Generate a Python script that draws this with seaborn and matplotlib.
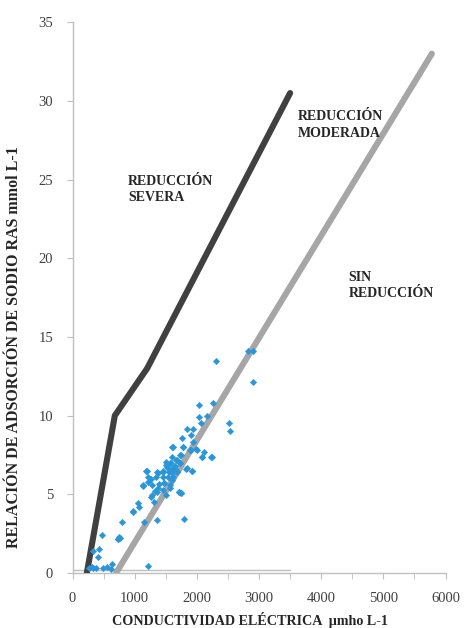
import matplotlib
matplotlib.use("Agg")
import matplotlib.pyplot as plt
import seaborn as sns
import pandas as pd
from matplotlib.ticker import MultipleLocator

# ---- data ----
severa_x = [230, 680, 1200, 3500]
severa_y = [0.0, 10.0, 13.0, 30.5]

sin_x = [700, 5780]
sin_y = [0.0, 33.0]

ce = [2310, 2820, 2895, 2895, 2036, 2256, 2036, 2160, 2509, 2525, 2063, 1848, 1945,
      1902, 1767, 1945, 1773, 1606, 1891, 1987, 2116, 2079, 2240, 1730, 1595, 1665,
      1568, 1504, 1730, 1837, 1918, 1622, 1542, 1676, 1461, 1380, 1192, 1257, 1343,
      1219, 1128, 1273, 1397, 1472, 1542, 1595, 1461, 1568, 1713, 1740, 1354, 1273,
      1310, 1504, 1058, 1074, 967, 789, 1155, 1364, 1794, 752, 725, 467, 333, 429,
      413, 628, 1219, 306, 376, 483, 612, 268,
      1676, 1579, 1504, 1730, 1526, 1622, 1676, 1558, 1461, 1364, 1461, 1622, 1568,
      1472, 1380, 1327, 1719, 1740, 1257, 1128, 1219, 1182, 1611, 1783, 1902, 1746,
      1998, 2079, 2229, 1826, 1918, 1649, 1595, 977, 762, 736, 330, 560]
ras = [13.47, 14.10, 14.10, 12.11, 10.67, 10.82, 9.93, 9.99, 9.55, 9.04, 9.51, 9.12, 9.12,
       8.76, 8.55, 8.34, 7.98, 7.98, 7.81, 7.85, 7.70, 7.39, 7.39, 7.49, 7.39, 7.18,
       6.96, 6.86, 7.01, 6.65, 6.50, 6.54, 6.65, 6.43, 6.43, 6.37, 6.50, 5.95, 6.12,
       5.80, 5.52, 5.59, 5.63, 5.69, 6.12, 5.90, 5.27, 5.38, 5.16, 5.06, 5.16, 4.95,
       4.53, 4.95, 4.42, 4.21, 3.89, 3.26, 3.26, 3.36, 3.43, 2.26, 2.16, 2.41, 1.41, 1.50,
       1.03, 0.57, 0.46, 0.40, 0.29, 0.29, 0.23, 0.33,
       7.18, 7.01, 7.08, 6.97, 6.76, 6.65, 6.50, 6.44, 6.48, 6.44, 6.08, 6.08, 5.59,
       5.70, 5.38, 5.23, 5.17, 5.07, 4.85, 5.59, 6.08, 6.50, 8.03, 8.03, 7.82, 7.50,
       7.82, 7.39, 7.39, 6.59, 6.48, 6.80, 6.34, 3.94, 2.20, 2.13, 0.30, 0.35]

x_ticks = [0, 1000, 2000, 3000, 4000, 5000, 6000]
y_ticks = [0, 5, 10, 15, 20, 25, 30, 35]

labels = ["REDUCCIÓN\nSEVERA", "REDUCCIÓN\nMODERADA", "SIN\nREDUCCIÓN"]
label_x = [890, 3630, 4440]
label_y = [25.3, 29.4, 19.2]

x_title = "CONDUCTIVIDAD ELÉCTRICA  µmho L-1"
y_title = "RELACIÓN DE ADSORCIÓN DE SODIO RAS mmol L-1"

# ---- style ----
sns.set_style("white")
plt.rcParams["font.family"] = ["Liberation Serif", "DejaVu Serif"]

fig = plt.figure(figsize=(4.68, 6.28), dpi=100)
ax = fig.add_axes([0.155, 0.0876, 0.797, 0.877])

df_pts = pd.DataFrame({"ce": ce, "ras": ras})
df_sev = pd.DataFrame({"x": severa_x, "y": severa_y})
df_sin = pd.DataFrame({"x": sin_x, "y": sin_y})

# inner chart frame (overlay of the original composite)
ax.axvline(0, ymin=0, ymax=15.6 / 35, color="#8c8c8c", lw=1.2, zorder=1)
ax.axhline(0.2, xmin=0, xmax=3500 / 6000, color="#bfbfbf", lw=1.0, zorder=1)

sns.lineplot(data=df_sin, x="x", y="y", sort=False, color="#a6a6a6", lw=4.4,
             ax=ax, zorder=2, solid_capstyle="round")
sns.lineplot(data=df_sev, x="x", y="y", sort=False, color="#404040", lw=4.4,
             ax=ax, zorder=3, solid_capstyle="round")
sns.scatterplot(data=df_pts, x="ce", y="ras", marker="D", s=11, color="#2a95d8",
                edgecolor="#2a95d8", linewidth=0.3, ax=ax, zorder=4)

for t, tx, ty in zip(labels, label_x, label_y):
    ax.text(tx, ty, t, fontsize=10, fontweight="bold", color="#262626",
            va="top", ha="left", linespacing=1.35)

ax.set_xlim(0, 6000)
ax.set_ylim(0, 35)
ax.set_xticks(x_ticks)
ax.set_yticks(y_ticks)
ax.xaxis.set_minor_locator(MultipleLocator(500))

for s in ["top", "right"]:
    ax.spines[s].set_visible(False)
for s in ["left", "bottom"]:
    ax.spines[s].set_color("#bfbfbf")
    ax.spines[s].set_linewidth(1.0)

ax.tick_params(axis="both", which="both", direction="out", color="#bfbfbf",
               labelcolor="#404040", labelsize=10.5)
ax.tick_params(axis="x", which="major", length=4, pad=10)
ax.tick_params(axis="x", which="minor", length=4)
ax.tick_params(axis="y", which="major", length=4, pad=10)
ax.tick_params(axis="x", which="both", bottom=True)
ax.tick_params(axis="y", which="both", left=True)

ax.set_xlabel(x_title, fontsize=10.2, fontweight="bold", color="#262626")
ax.set_ylabel(y_title, fontsize=11.5, fontweight="bold", color="#262626")
ax.xaxis.set_label_coords(0.476, -0.071)
ax.yaxis.set_label_coords(-0.136, 0.41)

fig.savefig("out.png", dpi=100, facecolor="white")
